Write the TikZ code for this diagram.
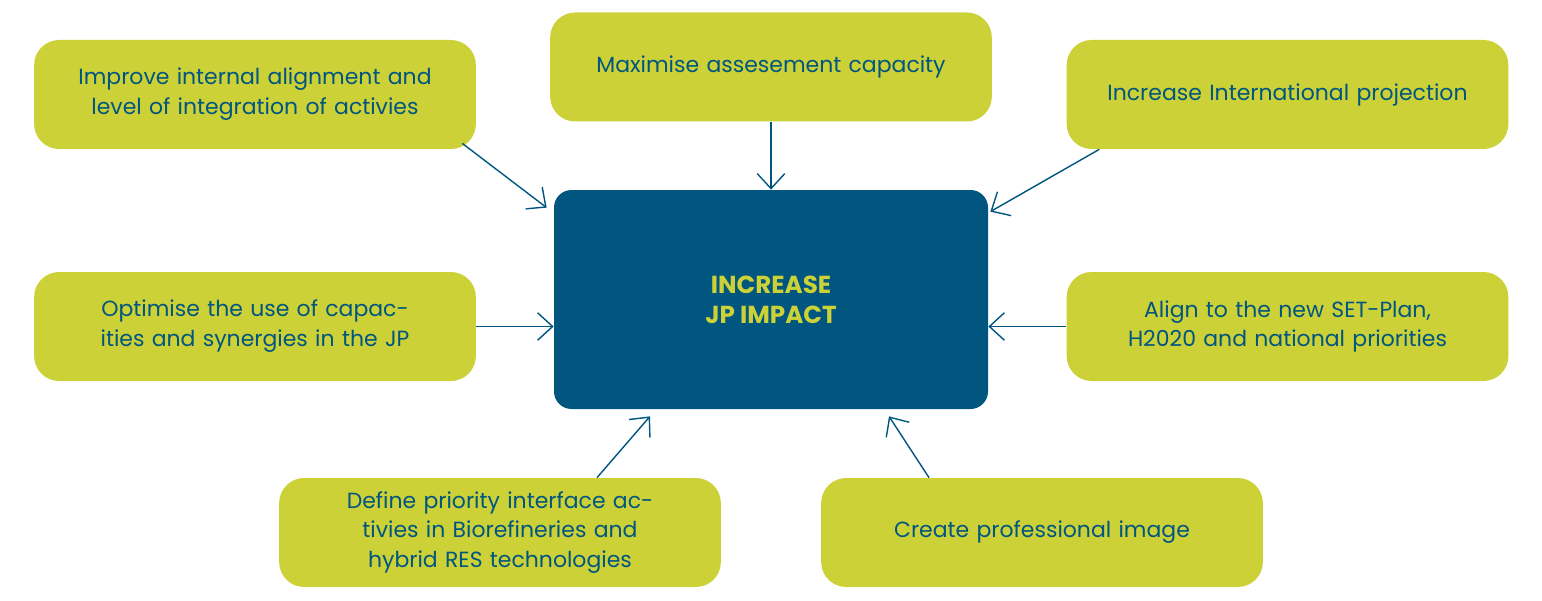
\documentclass[tikz,border=0pt]{standalone}
\usepackage{fontspec}
\setmainfont{Poppins}
\usetikzlibrary{arrows.meta}
\definecolor{lime}{HTML}{CDD138}
\definecolor{navy}{HTML}{00567F}
\begin{document}
\begin{tikzpicture}[>={Straight Barb[length=0.3cm,width=0.55cm]},
  goal/.style={fill=lime,rounded corners=0.5cm,minimum width=8.68cm,minimum height=2.18cm,
    text width=8.6cm,align=center,text=navy,font=\fontsize{12.5}{17}\selectfont},
  core/.style={fill=navy,rounded corners=0.35cm,minimum width=8.68cm,minimum height=4.38cm,
    align=center,text=lime,font=\fontsize{14}{17}\selectfont\bfseries},
  link/.style={->,draw=navy,line width=0.8pt}]
  \useasboundingbox (0,0) rectangle (30.84,12);
  \node[core] (c) at (15.42,6.01) {INCREASE\\JP IMPACT};
  \node[goal] (tl) at (5.1,10.11) {Improve internal alignment and level of integration of activies};
  \node[goal] (tc) at (15.42,10.66) {Maximise assesement capacity};
  \node[goal] (tr) at (25.75,10.11) {Increase International projection};
  \node[goal] (ml) at (5.1,5.47) {Optimise the use of capacities and synergies in the JP};
  \node[goal] (mr) at (25.75,5.47) {Align to the new SET-Plan, H2020 and national priorities};
  \node[goal] (bl) at (10,1.35) {Define priority interface activies in Biorefineries and hybrid RES technologies};
  \node[goal] (br) at (20.84,1.35) {Create professional image};
  % arrows into the core
  \draw[link] ([xshift=-0.28cm,yshift=0.12cm]tl.south east) -- ([xshift=-0.14cm,yshift=-0.36cm]c.north west);
  \draw[link] (tc.south) -- (c.north);
  \draw[link] ([xshift=0.66cm]tr.south west) -- ([xshift=0.04cm,yshift=-0.44cm]c.north east);
  \draw[link] (ml.east) -- (ml.east -| c.west);
  \draw[link] (mr.west) -- (mr.west -| c.east);
  \draw[link] ([xshift=1.94cm]bl.north) -- ([xshift=-2.42cm,yshift=-0.14cm]c.south);
  \draw[link] ([xshift=-2.26cm]br.north) -- ([xshift=2.36cm,yshift=-0.14cm]c.south);
\end{tikzpicture}
\end{document}
